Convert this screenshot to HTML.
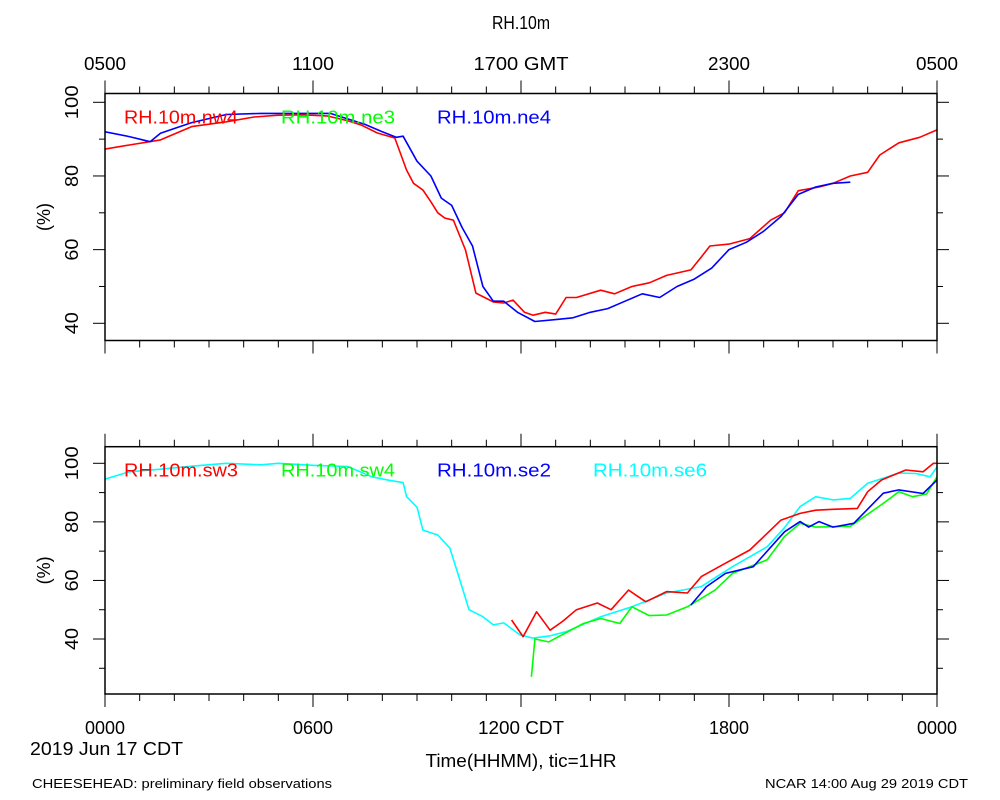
<!DOCTYPE html>
<html><head><meta charset="utf-8"><style>
html,body{margin:0;padding:0;background:#fff;}
svg{display:block;font-family:"Liberation Sans",sans-serif;}
</style></head>
<body>
<svg id="chart" width="1000" height="800" viewBox="0 0 1000 800" xmlns="http://www.w3.org/2000/svg">
<rect width="1000" height="800" fill="#fff"/>
<text x="521" y="29" font-size="18" text-anchor="middle" textLength="58" lengthAdjust="spacingAndGlyphs">RH.10m</text>
<g id="top-plot"></g>
<g id="bot-plot"></g>
<text x="105" y="734" font-size="18" text-anchor="middle" textLength="40" lengthAdjust="spacingAndGlyphs">0000</text>
<text x="313" y="734" font-size="18" text-anchor="middle" textLength="40" lengthAdjust="spacingAndGlyphs">0600</text>
<text x="521" y="734" font-size="18" text-anchor="middle" textLength="86" lengthAdjust="spacingAndGlyphs">1200 CDT</text>
<text x="729" y="734" font-size="18" text-anchor="middle" textLength="40" lengthAdjust="spacingAndGlyphs">1800</text>
<text x="937" y="734" font-size="18" text-anchor="middle" textLength="40" lengthAdjust="spacingAndGlyphs">0000</text>
<text x="30" y="755" font-size="18" textLength="153" lengthAdjust="spacingAndGlyphs">2019 Jun 17 CDT</text>
<text x="521" y="767" font-size="18" text-anchor="middle" textLength="191" lengthAdjust="spacingAndGlyphs">Time(HHMM), tic=1HR</text>
<text x="32" y="788" font-size="13" textLength="300" lengthAdjust="spacingAndGlyphs">CHEESEHEAD: preliminary field observations</text>
<text x="968" y="788" font-size="13" text-anchor="end" textLength="203" lengthAdjust="spacingAndGlyphs">NCAR 14:00 Aug 29 2019 CDT</text>
</svg>
<script>
// top panel data (hours since 0000 CDT, RH %)
const nw4Hours = [0,0.7,1.6,2.5,3.5,4.3,5,5.7,6.4,7,7.4,7.85,8.36,8.7,8.9,9.17,9.4,9.6,9.8,10.05,10.4,10.7,11.2,11.5,11.77,12.1,12.35,12.7,13,13.3,13.6,14.3,14.7,15.2,15.7,16.2,16.9,17.2,17.45,18,18.6,19.2,19.6,20,20.6,21,21.5,22,22.35,22.9,23.5,24];
const nw4Vals  = [87.3,88.4,89.8,93.4,94.7,96,96.5,96.6,96.3,95,93.8,91.7,90.3,81.6,78,76.2,73,70,68.6,68,59.9,48.2,45.8,45.5,46.3,43,42.2,43,42.5,47,47,49,48,50,51,53,54.5,58,61,61.5,63,68,70,76,77,78,80,81,85.7,89,90.5,92.5];
const ne4Hours = [0,0.7,1.3,1.6,2.5,3.5,4.5,5.5,6.5,7.5,8,8.4,8.6,9.0,9.4,9.7,10,10.3,10.6,10.9,11.2,11.5,11.9,12.4,13,13.5,14,14.5,15,15.5,16,16.5,17,17.5,18,18.5,19,19.5,20,20.5,21,21.5];
const ne4Vals  = [92,90.7,89.3,91.6,94.5,96.7,97,97,97,94,92,90.5,90.8,84,80,74,72,66,61,50,46,46,43,40.5,41,41.5,43,44,46,48,47,50,52,55,60,62,65,69,75,77,78,78.3];
// bottom panel data
const se6Hours = [0,0.7,1.6,2.5,3.5,4.5,5,6,7,7.7,8.2,8.6,8.7,9.0,9.17,9.6,9.95,10.24,10.5,10.9,11.2,11.5,11.97,12.35,12.8,13.3,14.3,15.2,16.2,17.2,18.1,19.1,19.6,20.05,20.5,21,21.5,22,22.9,23.4,23.8,24];
const se6Vals  = [94.6,97.1,98,99,100,99.5,100,99.3,98.9,95.4,94.2,93.4,88.6,85,77.2,75.5,71,60,50,47.6,44.8,45.5,41.4,40.3,41,42.5,47.6,51,55.7,57.9,64.7,71.5,78,85.2,88.6,87.5,88,93.2,96.7,96.5,95.4,98.8];
const sw3Hours = [11.73,12.06,12.45,12.84,13.2,13.6,14.2,14.6,15.1,15.6,16.2,16.8,17.2,17.9,18.6,19.5,20.05,20.5,21,21.7,22,22.4,23.1,23.6,23.9,24];
const sw3Vals  = [46.5,40.8,49.3,43,46,50,52.3,50,56.7,52.7,56.2,55.7,61.3,65.9,70.4,80.6,82.9,84,84.3,84.6,90.3,94.3,97.7,97.1,100,100];
const sw4Hours = [12.3,12.4,12.8,13.8,14.3,14.85,15.2,15.7,16.2,16.8,17.6,18.1,19.1,19.6,20.05,20.5,21.5,22.45,22.9,23.3,23.7,24];
const sw4Vals  = [27.1,40,39,45.3,47,45.3,51,48,48.2,51,56.7,62.4,67,75,79.5,78.2,78.5,86.3,90.3,88.6,89.5,95.4];
const se2Hours = [16.9,17.35,17.9,18.7,19.6,20.05,20.3,20.6,21,21.6,22.45,22.9,23.6,24];
const se2Vals  = [51.6,57.9,62.4,64.7,76.6,80.1,78.2,80.1,78.2,79.5,89.8,90.9,89.7,94.3];
const yTicks = [40,60,80,100];

const NS='http://www.w3.org/2000/svg';
const X0=105, X1=937;
function xScale(h){return X0+(X1-X0)*h/24;}
function mk(tag,attrs,parent){const e=document.createElementNS(NS,tag);for(const k in attrs)e.setAttribute(k,attrs[k]);parent.appendChild(e);return e;}

function panel(g, top, bot, y100, y40, series, legends, topLabels){
  const yS = v => y40 + (y100-y40)*(v-40)/60;
  const clip = 'clip'+top;
  const cp = mk('clipPath',{id:clip},g);
  mk('rect',{x:X0,y:top,width:X1-X0,height:bot-top},cp);
  // ticks x
  for(let h=0;h<=24;h++){
    const x=xScale(h), major=h%6===0, L=major?13:7;
    const t1=mk('line',{x1:x,x2:x,y1:top,y2:top-L,stroke:'#000','stroke-width':1},g);
    
    
    const t2=mk('line',{x1:x,x2:x,y1:bot,y2:bot+L,stroke:'#000','stroke-width':1},g);
    
    
  }
  // y ticks
  for(let v=30;v<=100;v+=10){
    const y=yS(v); if(y<top-0.5||y>bot+0.5) continue;
    const major=v%20===0, L=major?12:6;
    const a=mk('line',{x1:X0,x2:X0-L,y1:y,y2:y,stroke:'#000'},g);
    
    
    const b=mk('line',{x1:X1,x2:X1+L,y1:y,y2:y,stroke:'#000'},g);
    
    
  }
  yTicks.forEach(v=>{
    const y=yS(v);
    const t=mk('text',{x:0,y:0,'font-size':18,'text-anchor':'middle',transform:`translate(78 ${y}) rotate(-90)`,textLength:v===100?34:22,lengthAdjust:'spacingAndGlyphs'},g);
    t.textContent=v;
    
    
  });
  const yl=mk('text',{'font-size':18,'text-anchor':'middle',transform:`translate(50 ${(top+bot)/2}) rotate(-90)`},g);
  yl.textContent='(%)';
  
  
  const lg=mk('g',{'clip-path':`url(#${clip})`},g);
  series.forEach(s=>{
    const d=s.h.map((h,i)=>(i?'L':'M')+xScale(h).toFixed(1)+' '+yS(s.v[i]).toFixed(1)).join(' ');
    const p=mk('path',{d:d,fill:'none',stroke:s.c,'stroke-width':1.6,'stroke-linejoin':'round'},lg);
    
    
  });
  mk('rect',{x:X0,y:top,width:X1-X0,height:bot-top,fill:'none',stroke:'#000','stroke-width':1.5},g);
  legends.forEach(l=>{
    const t=mk('text',{x:l.x,y:top+30,'font-size':18,fill:l.c,textLength:114,lengthAdjust:'spacingAndGlyphs'},g);
    t.textContent=l.t;
    
    
  });
  if(topLabels){
    const labs=['0500','1100','1700 GMT','2300','0500'];
    labs.forEach((s,i)=>{
      const t=mk('text',{x:xScale(i*6),y:70,'font-size':18,'text-anchor':'middle',textLength:s.length>4?95:42,lengthAdjust:'spacingAndGlyphs'},g);
      t.textContent=s;
      
      
    });
  }
}
panel(document.getElementById('top-plot'),93.5,340.5,102.3,323.3,
 [{n:'nw4',h:nw4Hours,v:nw4Vals,c:'#ff0000'},{n:'ne4',h:ne4Hours,v:ne4Vals,c:'#0000ff'}],
 [{x:124,t:'RH.10m.nw4',c:'#ff0000'},{x:281,t:'RH.10m.ne3',c:'#00ff00'},{x:437,t:'RH.10m.ne4',c:'#0000ff'}],true);
panel(document.getElementById('bot-plot'),446.7,694,463.3,639,
 [{n:'se6',h:se6Hours,v:se6Vals,c:'#00ffff'},{n:'sw4',h:sw4Hours,v:sw4Vals,c:'#00ff00'},{n:'se2',h:se2Hours,v:se2Vals,c:'#0000ff'},{n:'sw3',h:sw3Hours,v:sw3Vals,c:'#ff0000'}],
 [{x:124,t:'RH.10m.sw3',c:'#ff0000'},{x:281,t:'RH.10m.sw4',c:'#00ff00'},{x:437,t:'RH.10m.se2',c:'#0000ff'},{x:593,t:'RH.10m.se6',c:'#00ffff'}],false);
</script>
</body></html>
